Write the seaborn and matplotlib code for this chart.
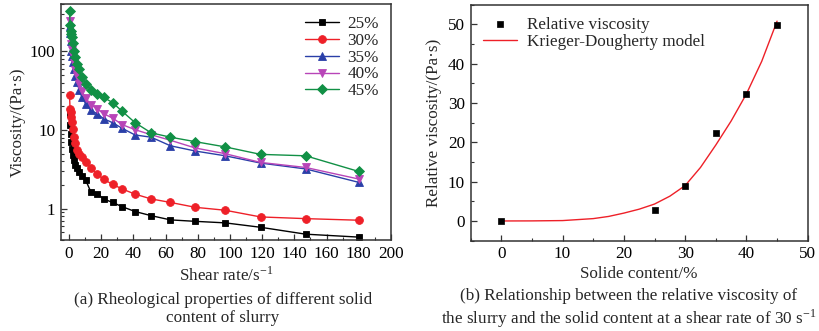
import numpy as np
import pandas as pd
import matplotlib
matplotlib.use("Agg")
import matplotlib.pyplot as plt
from matplotlib.ticker import MultipleLocator, LogLocator, NullFormatter, FixedLocator
import seaborn as sns

# ---- data: viscosity vs shear rate for each solid content ----
shear_rate = [0.3, 0.6, 1.0, 1.4, 1.9, 2.5, 3.2, 4.0, 5.0, 6.3, 8.0, 10.3, 13.5,
              17.5, 21.5, 27.0, 33.0, 41.0, 51.0, 63.0, 78.5, 97.0, 119.0, 147.0, 180.0]
labels = ["25%", "30%", "35%", "40%", "45%"]
visc_25 = [16.1, 11.5, 9.0, 7.05, 5.8, 4.8, 4.13, 3.6, 3.25, 2.94, 2.6, 2.31, 1.64,
           1.55, 1.33, 1.2, 1.06, 0.92, 0.815, 0.72, 0.69, 0.66, 0.58, 0.474, 0.435]
visc_30 = [28.0, 18.7, 16.9, 14.6, 12.6, 10.4, 8.15, 6.85, 5.65, 5.0, 4.6, 3.87, 3.3,
           2.75, 2.36, 2.04, 1.78, 1.53, 1.33, 1.2, 1.04, 0.955, 0.785, 0.747, 0.713]
visc_35 = [210, 170, 136, 102, 88, 74, 60, 48, 40.5, 31.8, 26.2, 21.6, 17.8,
           16.1, 13.9, 12.4, 10.5, 8.65, 8.1, 6.3, 5.4, 4.7, 3.8, 3.2, 2.16]
visc_40 = [245, 200, 158, 125, 105, 88, 72, 58, 48, 38, 31, 25.5, 21,
           18.5, 16.1, 14.2, 11.7, 10.1, 8.7, 7.4, 5.9, 5.0, 3.87, 3.34, 2.38]
visc_45 = [327, 218, 183, 166, 150, 126, 102, 84, 69, 59, 47, 39, 32.5,
           29, 26, 22.3, 17.3, 12.4, 9.2, 8.1, 7.1, 6.1, 4.9, 4.7, 2.97]

# ---- data: relative viscosity vs solid content (shear rate 30 s^-1) ----
solid_content = [0, 25, 30, 35, 40, 45]
rel_visc = [0.0, 2.7, 8.9, 22.4, 32.2, 49.8]
model_content = [0, 5, 10, 15, 17.5, 20, 22.5, 25, 27.5, 30, 32.5, 35, 37.5, 40, 42.5, 45]
model_visc = [0.0, 0.02, 0.1, 0.6, 1.15, 2.0, 3.0, 4.3, 6.3, 9.0, 13.6, 19.3, 25.4, 32.3, 40.6, 50.8]

colors = ["#000000", "#ee2028", "#2a3fa8", "#b845b8", "#119045"]
markers = ["s", "o", "^", "v", "D"]

sns.set_theme(style="ticks")
plt.rcParams["font.family"] = ["Liberation Serif", "DejaVu Serif"]
plt.rcParams["mathtext.fontset"] = "stix"
plt.rcParams["axes.edgecolor"] = "#333333"
plt.rcParams["axes.linewidth"] = 1.1
FS = 12.3

fig = plt.figure(figsize=(8.2, 3.31), dpi=100)
ax1 = fig.add_axes([0.0744, 0.275, 0.4024, 0.713])
ax2 = fig.add_axes([0.574, 0.273, 0.411, 0.713])

# ---- panel (a) ----
series = [visc_25, visc_30, visc_35, visc_40, visc_45]
for lab, vals, c, m in zip(labels, series, colors, markers):
    df = pd.DataFrame({"shear": shear_rate, "visc": vals})
    ms = 5.0 if m in ("s", "D") else 5.6
    sns.lineplot(data=df, x="shear", y="visc", ax=ax1, color=c, marker=m,
                 markersize=ms, markeredgewidth=0.6, markeredgecolor=c,
                 linewidth=1.0, label=lab, sort=False)
ax1.set_yscale("log")
ax1.set_xlim(-5, 200)
ax1.set_ylim(0.4, 400)
ax1.xaxis.set_major_locator(MultipleLocator(20))
ax1.xaxis.set_minor_locator(MultipleLocator(10))
ax1.yaxis.set_major_locator(FixedLocator([1, 10, 100]))
ax1.yaxis.set_minor_locator(LogLocator(base=10, subs=np.arange(2, 10)))
ax1.yaxis.set_minor_formatter(NullFormatter())
ax1.set_yticklabels(["1", "10", "100"])
ax1.set_xlabel(r"Shear rate/s$^{\mathregular{-1}}$", fontsize=FS, labelpad=3)
ax1.set_ylabel("Viscosity/(Pa·s)", fontsize=FS, labelpad=3)
ax1.legend(loc="upper right", frameon=False, fontsize=FS, handlelength=2.0,
           labelspacing=0.05, borderaxespad=0.3, handletextpad=0.5)

# ---- panel (b) ----
pts = pd.DataFrame({"content": solid_content, "rel": rel_visc})
fit = pd.DataFrame({"content": model_content, "rel": model_visc})
sns.scatterplot(data=pts, x="content", y="rel", ax=ax2, marker="s", color="black",
                s=20, edgecolor="black", linewidth=0.5, label="Relative viscosity", zorder=3)
sns.lineplot(data=fit, x="content", y="rel", ax=ax2, color="#ee2028", linewidth=1.0,
             label="Krieger-Dougherty model")
ax2.set_xlim(-5, 50)
ax2.set_ylim(-5, 55)
ax2.xaxis.set_major_locator(MultipleLocator(10))
ax2.xaxis.set_minor_locator(MultipleLocator(5))
ax2.yaxis.set_major_locator(MultipleLocator(10))
ax2.yaxis.set_minor_locator(MultipleLocator(5))
ax2.set_xlabel("Solide content/%", fontsize=FS, labelpad=3)
ax2.set_ylabel("Relative viscosity/(Pa·s)", fontsize=FS, labelpad=4)
ax2.legend(loc="upper left", frameon=False, fontsize=FS, handlelength=2.0,
           labelspacing=0.1, borderaxespad=0.3, handletextpad=0.6)

for ax in (ax1, ax2):
    ax.tick_params(which="both", direction="in", top=False, right=False,
                   labelsize=FS, colors="#333333", labelcolor="black")
    ax.tick_params(which="major", length=4, width=0.9, pad=4)
    ax.tick_params(which="minor", length=2.5, width=0.8)
    for sp in ax.spines.values():
        sp.set_visible(True)

fig.text(0.272, 0.066, "(a) Rheological properties of different solid\ncontent of slurry",
         ha="center", va="center", fontsize=FS, linespacing=1.2)
fig.text(0.767, 0.066, "(b) Relationship between the relative viscosity of\n"
         r"the slurry and the solid content at a shear rate of 30 s$^{\mathregular{-1}}$",
         ha="center", va="center", fontsize=FS, linespacing=1.2)

fig.savefig("out.png", dpi=100)
